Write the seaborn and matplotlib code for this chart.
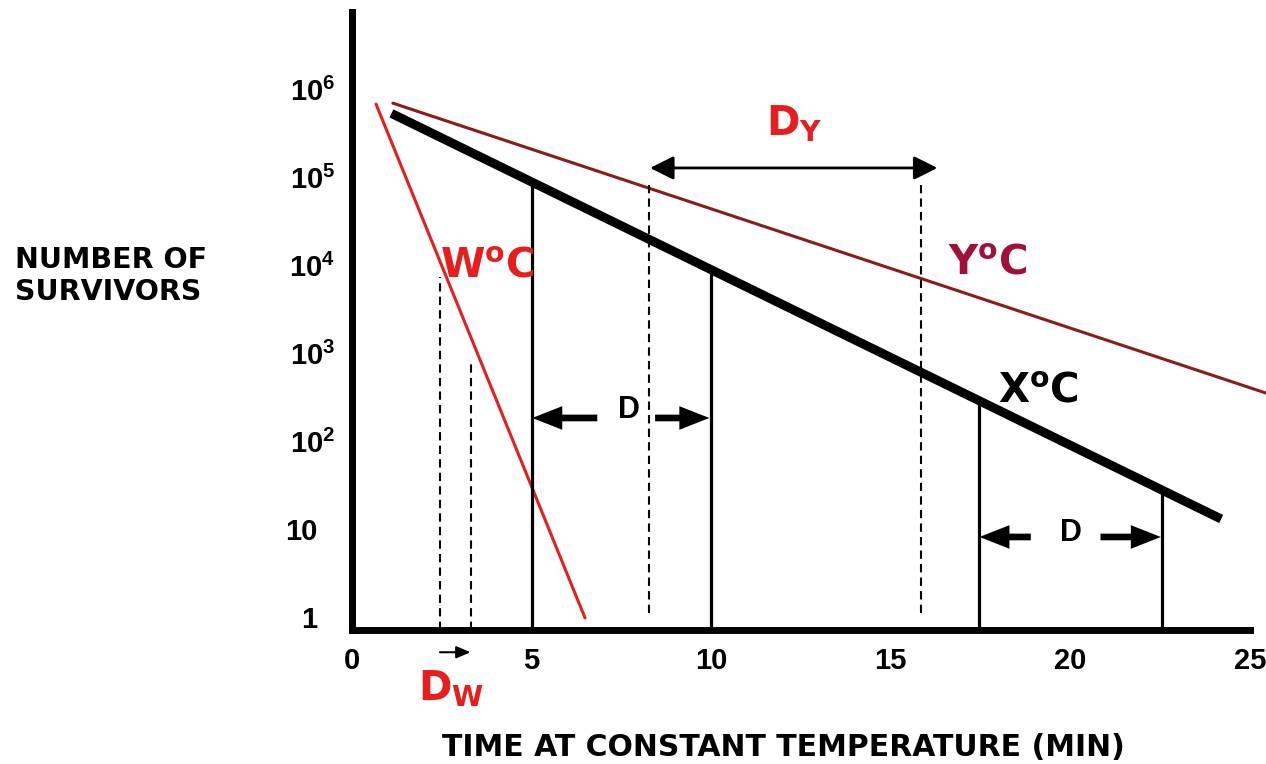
import matplotlib
matplotlib.use("Agg")
import matplotlib.pyplot as plt
import seaborn as sns
from matplotlib.ticker import FixedLocator, NullLocator
from matplotlib.transforms import ScaledTranslation

# survival curves (time in min, number of survivors)
time_x = [1.1, 24.2]
survivors_x = [6.5e5, 16]
time_y = [1.14, 25.46]
survivors_y = [8.5e5, 430]
time_w = [0.67, 6.49]
survivors_w = [8.3e5, 1.2]

# solid markers under the X line (one decade apart)
d_times = [5.0, 10.0, 17.45, 22.55]
d_tops = [1.0e5, 1.1e4, 360, 35]

# dashed markers for D_W and D_Y
w_dash_times = [2.45, 3.31]
w_dash_tops = [8.9e3, 9.8e2]
y_dash_times = [8.28, 15.85]
y_dash_tops = [1.0e5, 1.0e5]
y_dash_bottom = 1.37

x_ticks = [0, 5, 10, 15, 20, 25]
y_ticks = [1, 10, 1e2, 1e3, 1e4, 1e5, 1e6]
y_tick_labels = ["1", "10", r"$\mathregular{10^2}$", r"$\mathregular{10^3}$",
                 r"$\mathregular{10^4}$", r"$\mathregular{10^5}$", r"$\mathregular{10^6}$"]

RED = "#E61E1E"
MAROON = "#8A1C1C"
CRIMSON = "#A0103A"

sns.set_style("white")
plt.rcParams["font.family"] = ["DejaVu Sans"]
plt.rcParams["text.color"] = "black"
plt.rcParams["xtick.color"] = "black"
plt.rcParams["ytick.color"] = "black"
plt.rcParams["xtick.labelcolor"] = "black"
plt.rcParams["ytick.labelcolor"] = "black"

fig = plt.figure(figsize=(12.66, 7.64), dpi=100)
ax = fig.add_axes([0.278, 0.1754, 0.7093, 0.809])

sns.lineplot(x=time_y, y=survivors_y, ax=ax, color=MAROON, linewidth=2.2, clip_on=False)
sns.lineplot(x=time_x, y=survivors_x, ax=ax, color="black", linewidth=6.5, solid_capstyle="butt")
sns.lineplot(x=time_w, y=survivors_w, ax=ax, color=RED, linewidth=2.2)

ax.set_yscale("log")
ax.set_xlim(0, 25)
ax.set_ylim(0.877, 9.25e6)
y_floor = 0.877

ax.vlines(d_times, y_floor, d_tops, color="black", linewidth=2.3)
ax.vlines(w_dash_times, y_floor, w_dash_tops, color="black", linewidth=1.5,
          linestyles=(0, (4, 2.5)))
ax.vlines(y_dash_times, y_dash_bottom, y_dash_tops, color="black", linewidth=1.5,
          linestyles=(0, (4, 2.5)))

# D arrows
fat = dict(arrowstyle="simple,head_length=1.08,head_width=0.85,tail_width=0.24",
           fc="black", ec="none", lw=0, shrinkA=0, shrinkB=0, mutation_scale=20)
for tail, tip, yv in [(6.83, 5.02, 225), (8.44, 9.95, 225),
                      (18.9, 17.47, 10), (20.84, 22.52, 10)]:
    ax.annotate("", xy=(tip, yv), xytext=(tail, yv), arrowprops=fat)
ax.text(7.72, 280, "D", fontsize=22, fontweight="bold", family="Liberation Sans",
        ha="center", va="center")
ax.text(20.03, 11.2, "D", fontsize=22, fontweight="bold", family="Liberation Sans",
        ha="center", va="center")

# D_Y double arrow
ax.annotate("", xy=(16.3, 1.56e5), xytext=(8.3, 1.56e5),
            arrowprops=dict(arrowstyle="<|-|>,head_length=0.72,head_width=0.36",
                            color="black", lw=2, shrinkA=0, shrinkB=0, mutation_scale=20))
# D_W small arrow below the axis
ax.annotate("", xy=(3.3, 0.49), xytext=(2.45, 0.49), annotation_clip=False,
            arrowprops=dict(arrowstyle="-|>,head_length=0.7,head_width=0.3",
                            color="black", lw=1.5, shrinkA=0, shrinkB=0, mutation_scale=12))

lab = dict(fontsize=29, fontweight="bold", va="baseline", ha="left", clip_on=False)
ax.text(2.45, 8.9e3, r"W$\mathregular{^o}$C", color=RED, **lab)
ax.text(16.6, 9.5e3, r"Y$\mathregular{^o}$C", color=CRIMSON, **lab)
ax.text(18.0, 333, r"X$\mathregular{^o}$C", color="black", **lab)
ax.text(11.53, 3.7e5, r"D$\mathregular{_Y}$", color=RED, **lab)
ax.text(1.84, 0.14, r"D$\mathregular{_W}$", color=RED, **lab)

# axes styling
for side in ["top", "right"]:
    ax.spines[side].set_visible(False)
for side in ["left", "bottom"]:
    ax.spines[side].set_linewidth(5)
    ax.spines[side].set_color("black")

ax.xaxis.set_major_locator(FixedLocator(x_ticks))
ax.set_xticklabels([str(t) for t in x_ticks])
ax.yaxis.set_major_locator(FixedLocator(y_ticks))
ax.yaxis.set_minor_locator(NullLocator())
ax.set_yticklabels(y_tick_labels)
ax.tick_params(axis="both", direction="in", length=13, width=2.3, color="black",
               labelsize=21, pad=12, labelcolor="black")
for lbl in ax.get_xticklabels() + ax.get_yticklabels():
    lbl.set_fontweight("bold")
    lbl.set_family("Liberation Sans")
for lbl in ax.get_yticklabels():
    dx = -18 / 100 if lbl.get_text() in ("1", "10") else 0
    lbl.set_transform(lbl.get_transform() + ScaledTranslation(dx, 8 / 100, fig.dpi_scale_trans))

ax.set_xlabel("")
ax.set_ylabel("")
fig.text(0.012, 0.639, "NUMBER OF\nSURVIVORS", fontsize=20.5, fontweight="bold",
         ha="left", va="center", linespacing=1.2, color="black")
fig.text(0.619, 0.021, "TIME AT CONSTANT TEMPERATURE (MIN)", fontsize=21.5,
         fontweight="bold", ha="center", va="center", color="black")

fig.savefig("out.png", dpi=100, facecolor="white")
